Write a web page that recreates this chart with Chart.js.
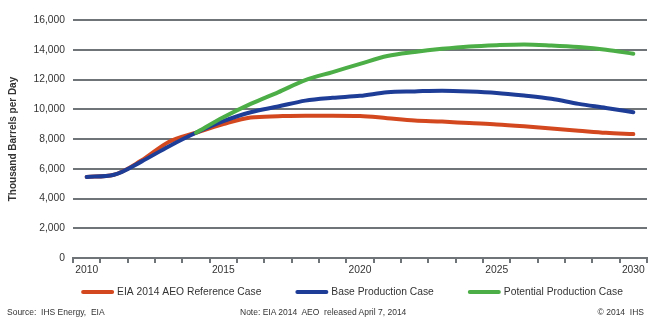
<!DOCTYPE html>
<html>
<head>
<meta charset="utf-8">
<script src="https://cdn.jsdelivr.net/npm/chart.js@4"></script>
<style>
  body { margin: 0; background: #fff; }
  .wrap { position: relative; width: 650px; height: 321px; }
  .note { position: absolute; font-family: "Liberation Sans", Arial, sans-serif; font-size: 8.5px; color: #333; top: 307px; white-space: pre; }
</style>
</head>
<body>
<div class="wrap">
  <canvas id="myChart" width="650" height="321"></canvas>
  <div class="note" style="left:7px">Source:  IHS Energy,  EIA</div>
  <div class="note" style="left:240px">Note: EIA 2014  AEO  released April 7, 2014</div>
  <div class="note" style="right:6px">© 2014  IHS</div>
</div>
<script>
const years = [2010, 2011, 2012, 2013, 2014, 2015, 2016, 2017, 2018, 2019, 2020,
  2021, 2022, 2023, 2024, 2025, 2026, 2027, 2028, 2029, 2030];
const eiaReference = [5450, 5600, 6550, 7800, 8420, 9000, 9450, 9530, 9570, 9570, 9550,
  9400, 9250, 9170, 9070, 8980, 8850, 8700, 8560, 8420, 8330];
const baseProduction = [5450, 5600, 6480, 7500, 8420, 9200, 9800, 10180, 10580, 10770, 10900,
  11140, 11200, 11250, 11200, 11100, 10920, 10700, 10360, 10090, 9800];
const potentialProduction = [null, null, null, null, 8420, 9460, 10360, 11140, 11960, 12500, 13050,
  13580, 13850, 14060, 14220, 14310, 14360, 14290, 14180, 14000, 13730];
const yTicks = [0, 2000, 4000, 6000, 8000, 10000, 12000, 14000, 16000];

const font = "'Liberation Sans', Arial, sans-serif";
const gridColor = "#6f7479";

// legend drawn as one row of long line swatches under the axis
const lineLegend = {
  id: "lineLegend",
  afterDraw(chart) {
    const c = chart.ctx;
    const boxW = 33, gap = 3, itemGap = 34, y = 292;
    c.save();
    c.font = "10.3px " + font;
    c.textBaseline = "middle";
    const items = chart.data.datasets.map(ds => ({ ds, w: boxW + gap + c.measureText(ds.label).width }));
    const total = items.reduce((s, it) => s + it.w, 0) + itemGap * (items.length - 1);
    let x = 352 - total / 2;
    items.forEach(it => {
      c.strokeStyle = it.ds.borderColor;
      c.lineWidth = 4;
      c.lineCap = "round";
      c.beginPath();
      c.moveTo(x + 2, y);
      c.lineTo(x + boxW - 2, y);
      c.stroke();
      c.fillStyle = "#333";
      c.fillText(it.ds.label, x + boxW + gap, y + 0.5);
      x += it.w + itemGap;
    });
    c.restore();
  },
};

const ctx = document.getElementById("myChart").getContext("2d");

new Chart(ctx, {
  type: "line",
  data: {
    labels: years,
    datasets: [
      { label: "EIA 2014 AEO Reference Case", data: eiaReference, borderColor: "#d4481f", backgroundColor: "#d4481f", order: 2 },
      { label: "Base Production Case", data: baseProduction, borderColor: "#1e3d96", backgroundColor: "#1e3d96", order: 1 },
      { label: "Potential Production Case", data: potentialProduction, borderColor: "#4cae46", backgroundColor: "#4cae46", order: 0 },
    ],
  },
  options: {
    responsive: false,
    animation: false,
    elements: {
      line: { borderWidth: 4, cubicInterpolationMode: "monotone", borderCapStyle: "round" },
      point: { radius: 0 },
    },
    layout: { padding: { top: 20, right: 3, bottom: 43, left: 0 } },
    scales: {
      x: {
        offset: true,
        grid: { offset: true, drawOnChartArea: false, drawTicks: true, tickLength: 5, color: gridColor, lineWidth: 2 },
        border: { color: gridColor, width: 2 },
        ticks: {
          autoSkip: false,
          maxRotation: 0,
          padding: 1,
          color: "#333",
          font: { family: font, size: 10.3 },
          callback: function (value, index) {
            const y = years[index];
            return y % 5 === 0 ? String(y) : "";
          },
        },
        afterFit: function (scale) { scale.height = 20; },
      },
      y: {
        min: 0,
        max: 16000,
        afterBuildTicks: function (scale) { scale.ticks = yTicks.map(v => ({ value: v })); },
        grid: { color: gridColor, lineWidth: 2, drawTicks: false },
        border: { display: false },
        ticks: { padding: 8, color: "#333", font: { family: font, size: 10.3 } },
        title: {
          display: true,
          text: "Thousand Barrels per Day",
          color: "#333",
          font: { family: font, size: 10, weight: "bold" },
          padding: { top: 7, bottom: 0 },
        },
        afterFit: function (scale) { scale.width = 73; },
      },
    },
    plugins: {
      legend: { display: false },
      tooltip: { enabled: false },
    },
  },
  plugins: [lineLegend],
});
</script>
</body>
</html>
